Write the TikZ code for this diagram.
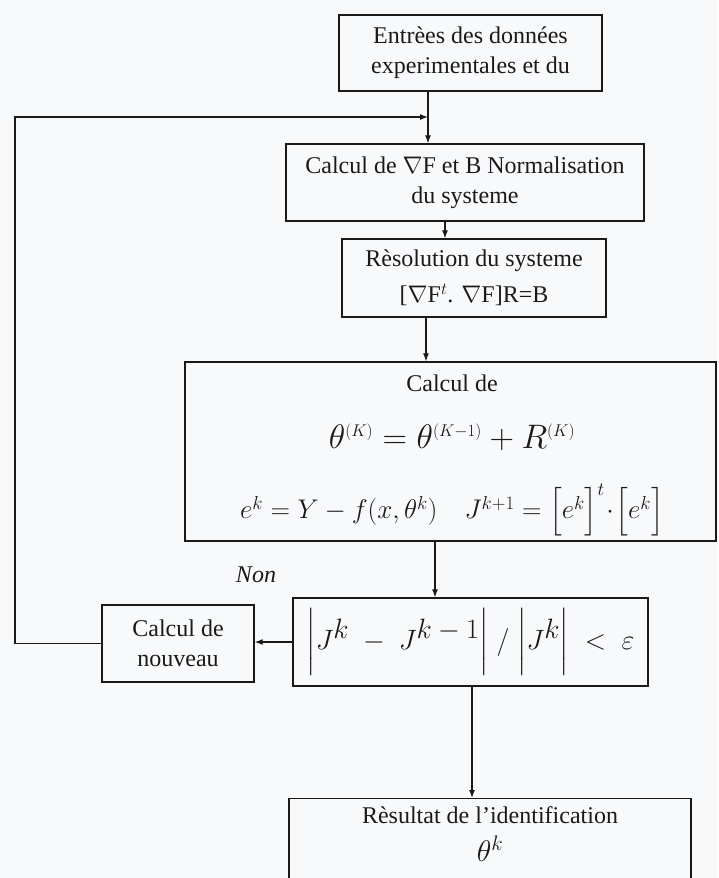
\RequirePackage{fix-cm}
\documentclass[tikz,border=0pt]{standalone}
\usepackage{amsmath,amssymb}
\usepackage{fontspec}
\setmainfont{Liberation Serif}
\usepackage{tikz}
\usetikzlibrary{arrows.meta,positioning,calc}
\definecolor{ink}{HTML}{1A1A1A}
\definecolor{paper}{HTML}{F8F9FB}
\tikzset{
  boxnode/.style={
    draw=ink,
    line width=1.3pt,
    align=center,
    inner sep=4pt,
    text=ink,
    font=\fontsize{24}{30}\selectfont
  },
  textnode/.style={
    align=center,
    inner sep=0pt,
    text=ink,
    font=\fontsize{24}{34}\selectfont
  },
  flowarrow/.style={-{Latex[length=8pt,width=6pt]},line width=1.2pt,draw=ink}
}

\begin{document}
\begin{tikzpicture}[x=1pt,y=-1pt]
  \useasboundingbox (0,0) rectangle (718,878);
  \clip (0,0) rectangle (718,878);
  \fill[paper] (0,0) rectangle (718,878);
  \node[boxnode, minimum width=263pt, minimum height=76pt] (entree) at (470.5,53) {Entrèes des données\\experimentales et du};
  \node[boxnode, minimum width=358pt, minimum height=77pt] (gradient) at (465,182.5) {Calcul de $\nabla$F et B Normalisation\\du systeme};
  \node[boxnode, minimum width=264pt, minimum height=78pt, font=\fontsize{24}{36}\selectfont] (resol) at (474,278) {Rèsolution du systeme\\{}[$\nabla$F$^{t}$. $\nabla$F]R=B};
  \node[boxnode, minimum width=531pt, minimum height=179pt] (calcul) at (450.5,451.5) {};
  \node[textnode] (calculT) at (452,383) {Calcul de};
  \node[textnode, font=\fontsize{34}{40}\selectfont] (theta) at (452,437) {$\theta^{\scriptscriptstyle(K)} = \theta^{\scriptscriptstyle(K-1)} + R^{\scriptscriptstyle(K)}$};
  \node[textnode, font=\fontsize{27}{32}\selectfont] (erreur) at (452,510) {$e^{k} = Y - f(x,\theta^{k}) \quad J^{k+1} = \Bigl[e^{k}\Bigr]^{t}\!\cdot\!\Bigl[e^{k}\Bigr]$};
  \node[boxnode, minimum width=355pt, minimum height=88pt, font=\fontsize{28}{32}\selectfont] (critere) at (470.5,642) {$\biggl|J^{\textstyle k} \;-\; J^{\textstyle k-1}\biggr| \;/\; \biggl|J^{\textstyle k}\biggr| \;<\; \varepsilon$};
  \node[boxnode, minimum width=152pt, minimum height=77pt] (nouveau) at (178,643.5) {Calcul de\\nouveau};
  \node[textnode, font=\fontsize{24}{30}\selectfont\itshape] (non) at (256,575) {Non};
  \node[boxnode, anchor=north, minimum width=402pt, minimum height=110pt] (resultat) at (490,798) {};
  \node[textnode] (resultatT) at (490,815) {Rèsultat de l'identification};
  \node[textnode, font=\fontsize{30}{34}\selectfont] (thetak) at (490,849) {$\theta^{k}$};
  \coordinate (join) at (428,117);
  \coordinate (arr2) at (445,0);
  \coordinate (arr3) at (426,0);
  \coordinate (arr4) at (435,0);
  \coordinate (arr5) at (472,0);
  \coordinate (loopx) at (15,0);
  \draw[flowarrow] (entree.south -| join) -- (gradient.north -| join);
  \draw[flowarrow] (gradient.south -| arr2) -- (resol.north -| arr2);
  \draw[flowarrow] (resol.south -| arr3) -- (calcul.north -| arr3);
  \draw[flowarrow] (calcul.south -| arr4) -- (critere.north -| arr4);
  \draw[flowarrow] (critere.west) -- (critere.west -| nouveau.east);
  \draw[flowarrow] (critere.south -| arr5) -- (resultat.north -| arr5);
  \draw[flowarrow] (nouveau.west) -- (nouveau.west -| loopx) -- (join -| loopx) -- (join);
\end{tikzpicture}
\end{document}
